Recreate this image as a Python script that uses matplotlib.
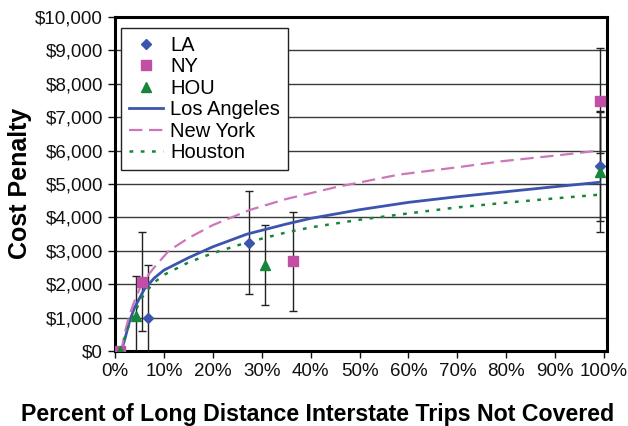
import matplotlib.pyplot as plt
from matplotlib.ticker import FuncFormatter, MultipleLocator
from matplotlib import font_manager

# measured points (x = share of trips not covered, y = cost penalty $)
la_x = [0.010, 0.067, 0.273, 0.991]
la_y = [0, 1000, 3240, 5550]
la_err = [0, 1570, 1540, 1650]

ny_x = [0.010, 0.056, 0.364, 0.991]
ny_y = [0, 2070, 2690, 7500]
ny_err = [0, 1480, 1480, 1580]

hou_x = [0.010, 0.042, 0.307, 0.991]
hou_y = [0, 1060, 2570, 5350]
hou_err = [0, 1190, 1200, 1800]

# trend lines
la_fit_x = [0.013, 0.02, 0.03, 0.04, 0.06, 0.08, 0.10, 0.15, 0.20, 0.27, 0.35, 0.40, 0.50, 0.60, 0.70, 0.80, 0.90, 0.99]
la_fit_y = [0, 350, 900, 1300, 1850, 2180, 2420, 2790, 3120, 3500, 3800, 3970, 4230, 4450, 4620, 4770, 4920, 5050]

ny_fit_x = [0.013, 0.02, 0.03, 0.04, 0.055, 0.08, 0.11, 0.15, 0.20, 0.275, 0.35, 0.45, 0.58, 0.70, 0.79, 0.90, 0.99]
ny_fit_y = [0, 550, 1100, 1500, 2030, 2500, 3000, 3380, 3770, 4220, 4550, 4900, 5280, 5500, 5680, 5850, 6000]

hou_fit_x = [0.013, 0.02, 0.03, 0.037, 0.05, 0.06, 0.08, 0.10, 0.15, 0.20, 0.27, 0.35, 0.40, 0.50, 0.60, 0.70, 0.80, 0.90, 0.99]
hou_fit_y = [0, 400, 850, 1050, 1450, 1720, 2050, 2280, 2650, 2930, 3250, 3550, 3700, 3930, 4120, 4300, 4440, 4570, 4680]

blue = "#3B55AE"
pink = "#C24FA6"
pink_line = "#CC77BB"
green = "#17853A"

names = [f.name for f in font_manager.fontManager.ttflist]
narrow = "Liberation Sans Narrow" if "Liberation Sans Narrow" in names else "Liberation Sans"
plt.rcParams["font.family"] = [narrow, "DejaVu Sans"]

fig = plt.figure(figsize=(6.28, 4.26), dpi=100)
ax = fig.add_axes([115 / 628, 1 - 351 / 426, 492 / 628, 334 / 426])

for x, y, e in [(la_x, la_y, la_err), (ny_x, ny_y, ny_err), (hou_x, hou_y, hou_err)]:
    ax.errorbar(x, y, yerr=e, fmt="none", ecolor="#222222", elinewidth=1, capsize=3, capthick=1, zorder=3)

ax.plot(la_x, la_y, linestyle="none", marker="D", markersize=5, color=blue, label="LA", zorder=5)
ax.plot(ny_x, ny_y, linestyle="none", marker="s", markersize=7, color=pink, label="NY", zorder=5)
ax.plot(hou_x, hou_y, linestyle="none", marker="^", markersize=7, color=green, label="HOU", zorder=5)

ax.plot(la_fit_x, la_fit_y, color=blue, linewidth=2, label="Los Angeles", zorder=4)
ax.plot(ny_fit_x, ny_fit_y, color=pink_line, linewidth=1.6, linestyle=(0, (6, 3)), label="New York", zorder=4)
ax.plot(hou_fit_x, hou_fit_y, color=green, linewidth=1.8, linestyle=(0, (1.5, 3)), label="Houston", zorder=4)

ax.set_xlim(0, 1.006)
ax.set_ylim(0, 10000)
ax.xaxis.set_major_locator(MultipleLocator(0.1))
ax.yaxis.set_major_locator(MultipleLocator(1000))
ax.xaxis.set_major_formatter(FuncFormatter(lambda v, p: f"{v * 100:.0f}%"))
ax.yaxis.set_major_formatter(FuncFormatter(lambda v, p: f"${v:,.0f}"))
ax.tick_params(labelsize=13.5, width=1, length=5, direction="out", colors="#111111")
ax.grid(axis="y", color="#3a3a3a", linewidth=1)
ax.set_axisbelow(True)
for s in ax.spines.values():
    s.set_linewidth(2.2)

fig.text(318 / 628, 1 - 421 / 426, "Percent of Long Distance Interstate Trips Not Covered",
         fontsize=16.7, fontweight="bold", family="Liberation Sans", ha="center", va="baseline")
fig.text(20 / 628, 1 - 183 / 426, "Cost Penalty", rotation=90,
         fontsize=18, fontweight="bold", family="Liberation Sans", ha="center", va="center")

leg = ax.legend(loc="upper left", bbox_to_anchor=(0.012, 0.967), borderaxespad=0,
                fontsize=14.5, handlelength=1.7, labelspacing=0.12, fancybox=False,
                framealpha=1, edgecolor="#222222", borderpad=0.4, handletextpad=0.35)
leg.get_frame().set_linewidth(1)

fig.savefig("out.png", dpi=100)
